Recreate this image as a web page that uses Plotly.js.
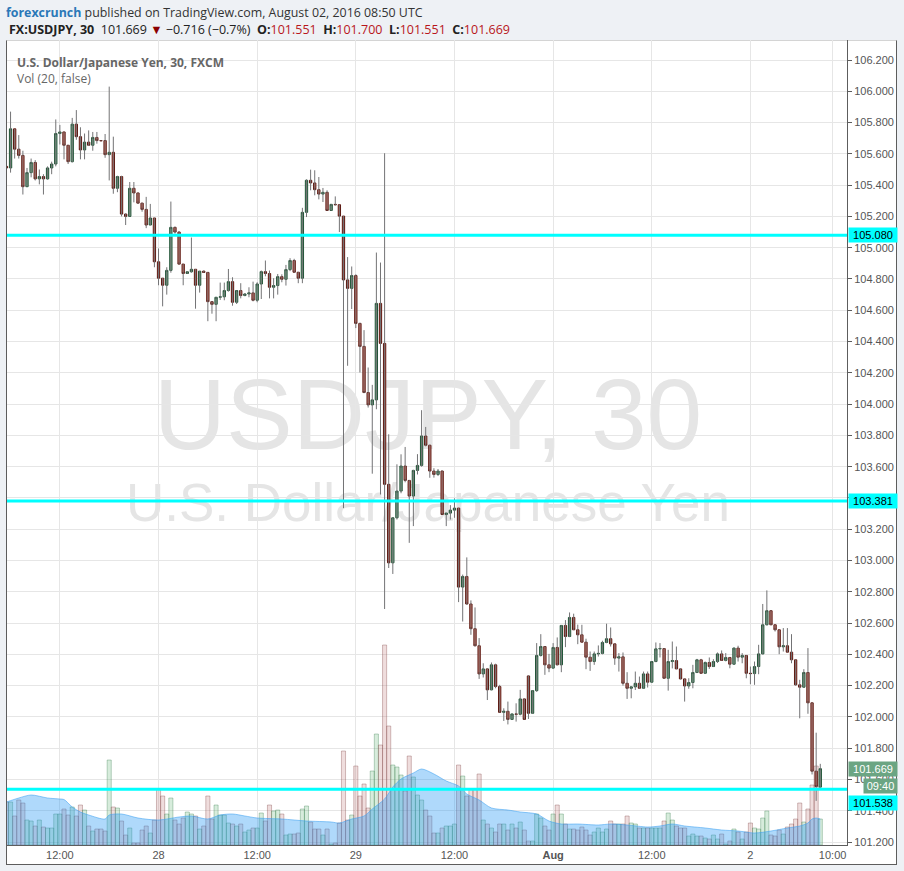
<!DOCTYPE html>
<html><head><meta charset="utf-8">
<script src="https://cdn.plot.ly/plotly-3.0.1.min.js"></script>
<style>
html,body{margin:0;padding:0;background:#eef1f5;}
#wrap{position:relative;width:904px;height:871px;overflow:hidden;}
#frame{position:absolute;left:6px;top:40px;width:891px;height:825px;box-sizing:border-box;background:#fff;border-left:1px solid #5d5d5d;border-right:1px solid #5d5d5d;border-bottom:1px solid #5d5d5d;border-top:1px solid #d4d4d4;}
.wm{position:absolute;left:0;width:856px;text-align:center;font-family:'Liberation Sans',Arial,sans-serif;color:#e5e5e5;white-space:nowrap;line-height:1;}
#chart{position:absolute;left:0;top:0;width:904px;height:871px;}
</style></head>
<body>
<div id="wrap">
<div id="frame"></div>
<div class="wm" style="top:364px;font-size:100px">USDJPY, 30</div>
<div class="wm" style="top:476px;font-size:53px">U.S. Dollar/Japanese Yen</div>
<div id="chart"></div>
</div>
<script>
// 30-minute sessions shown on the chart (weekend gap collapsed)
const SESSIONS = [['2016-07-27T05:30:00Z', 127], ['2016-07-31T21:00:00Z', 72]];

const OPEN = [105.52,105.51,105.76,105.63,105.59,105.39,105.48,105.545,105.44,105.455,
105.44,105.51,105.535,105.73,105.74,105.655,105.55,105.79,105.71,105.625,
105.675,105.655,105.705,105.685,105.685,105.595,105.61,105.38,105.455,105.215,
105.20,105.38,105.35,105.285,105.245,105.145,105.19,104.91,104.805,104.76,
104.855,105.13,105.10,104.895,104.835,104.846,104.862,104.76,104.85,104.842,
104.655,104.638,104.683,104.686,104.726,104.783,104.651,104.726,104.694,104.704,
104.711,104.664,104.768,104.847,104.835,104.747,104.758,104.815,104.798,104.86,
104.918,104.843,104.805,105.226,105.431,105.414,105.371,105.343,105.354,105.238,
105.277,105.275,105.202,104.794,104.74,104.822,104.516,104.369,104.074,103.995,
104.027,104.644,104.388,103.487,102.985,103.273,103.444,103.604,103.512,103.412,
103.576,103.608,103.796,103.737,103.572,103.55,103.572,103.294,103.303,103.322,
103.335,102.83,102.898,102.722,102.564,102.455,102.275,102.307,102.173,102.333,
102.194,102.029,102.036,101.984,102.019,102.017,102.115,102.262,102.023,102.168,
102.393,102.45,102.333,102.312,102.444,102.333,102.585,102.514,102.636,102.557,
102.525,102.478,102.382,102.354,102.403,102.406,102.476,102.50,102.467,102.376,
102.384,102.215,102.183,102.192,102.215,102.183,102.275,102.222,102.354,102.435,
102.437,102.247,102.354,102.36,102.307,102.243,102.198,102.22,102.284,102.365,
102.279,102.348,102.322,102.354,102.403,102.361,102.38,102.337,102.44,102.382,
102.393,102.279,102.277,102.322,102.403,102.589,102.679,102.589,102.557,102.448,
102.455,102.414,102.365,102.205,102.19,102.284,102.09,101.653,101.551];

const HIGH = [105.52,105.87,105.76,105.72,105.62,105.51,105.57,105.56,105.50,105.47,
105.52,105.55,105.82,105.785,105.74,105.655,105.83,105.88,105.77,105.73,
105.75,105.74,105.74,105.687,105.727,106.03,105.71,105.46,105.46,105.22,
105.42,105.42,105.352,105.287,105.325,105.28,105.19,104.995,104.806,104.875,
105.295,105.135,105.105,104.896,104.848,105.065,104.864,104.851,104.855,104.845,
104.657,104.684,104.777,104.777,104.864,104.811,104.727,104.773,104.71,104.747,
104.783,104.779,104.854,104.918,104.854,104.805,104.832,104.83,104.89,104.933,
104.929,104.845,105.255,105.437,105.499,105.495,105.452,105.382,105.367,105.28,
105.328,105.276,105.203,104.94,104.88,104.83,104.52,104.473,104.234,104.123,
104.969,104.905,105.604,103.807,103.275,103.615,103.679,103.726,103.515,103.58,
103.68,103.961,103.854,103.74,103.59,103.585,103.575,103.305,103.354,103.397,
103.336,102.91,103.02,102.745,102.70,102.504,102.343,102.31,102.348,102.34,
102.205,102.055,102.098,102.02,102.087,102.173,102.117,102.265,102.17,102.472,
102.529,102.452,102.403,102.472,102.508,102.586,102.619,102.668,102.66,102.59,
102.589,102.50,102.418,102.418,102.457,102.487,102.596,102.572,102.47,102.408,
102.412,102.286,102.195,102.29,102.258,102.29,102.29,102.356,102.476,102.472,
102.44,102.429,102.482,102.45,102.31,102.245,102.247,102.333,102.371,102.371,
102.354,102.38,102.369,102.412,102.425,102.408,102.382,102.444,102.455,102.408,
102.395,102.322,102.354,102.461,102.722,102.809,102.68,102.59,102.558,102.568,
102.568,102.529,102.367,102.237,102.305,102.44,102.092,101.899,101.700];

const LOW = [105.51,105.48,105.57,105.57,105.34,105.39,105.45,105.43,105.405,105.34,
105.435,105.47,105.52,105.66,105.565,105.535,105.545,105.69,105.565,105.565,
105.65,105.62,105.665,105.683,105.575,105.43,105.345,105.355,105.20,105.145,
105.20,105.29,105.28,105.23,105.125,105.145,104.875,104.76,104.625,104.70,
104.84,105.09,104.895,104.76,104.833,104.84,104.61,104.713,104.84,104.53,
104.578,104.53,104.666,104.664,104.719,104.629,104.64,104.676,104.69,104.683,
104.657,104.651,104.672,104.817,104.676,104.676,104.70,104.779,104.758,104.85,
104.841,104.773,104.773,105.196,105.367,105.335,105.309,105.292,105.238,105.237,
105.27,105.10,103.335,104.245,104.608,104.486,104.202,104.07,103.978,103.555,
103.967,103.422,102.69,102.952,102.914,103.262,103.43,103.50,103.113,103.22,
103.55,103.60,103.73,103.529,103.53,103.54,103.294,103.22,103.262,103.273,
102.734,102.61,102.717,102.525,102.45,102.243,102.252,102.108,102.17,102.183,
102.029,101.974,101.952,101.982,101.97,102.01,101.984,101.987,102.019,102.16,
102.386,102.269,102.286,102.31,102.33,102.286,102.446,102.51,102.556,102.465,
102.477,102.305,102.294,102.333,102.386,102.40,102.471,102.45,102.333,102.29,
102.20,102.115,102.119,102.172,102.18,102.18,102.188,102.22,102.35,102.38,
102.243,102.168,102.31,102.305,102.24,102.098,102.18,102.183,102.28,102.278,
102.277,102.307,102.32,102.345,102.36,102.355,102.311,102.335,102.354,102.343,
102.247,102.209,102.205,102.273,102.40,102.585,102.588,102.546,102.401,102.418,
102.413,102.343,102.20,101.991,102.188,102.02,101.632,101.463,101.551];

const CLOSE = [105.51,105.76,105.63,105.59,105.39,105.48,105.545,105.44,105.455,105.44,
105.51,105.535,105.73,105.74,105.655,105.55,105.79,105.71,105.625,105.675,
105.655,105.705,105.685,105.684,105.595,105.61,105.38,105.455,105.215,105.20,
105.38,105.35,105.285,105.245,105.145,105.19,104.91,104.805,104.76,104.855,
105.13,105.10,104.895,104.835,104.846,104.862,104.76,104.85,104.842,104.655,
104.638,104.683,104.686,104.726,104.783,104.651,104.726,104.694,104.704,104.711,
104.664,104.768,104.847,104.835,104.747,104.758,104.815,104.798,104.86,104.918,
104.843,104.805,105.226,105.431,105.414,105.371,105.343,105.354,105.238,105.277,
105.275,105.202,104.794,104.74,104.822,104.516,104.369,104.074,103.995,104.027,
104.644,104.388,103.487,102.985,103.273,103.444,103.604,103.512,103.412,103.576,
103.608,103.796,103.737,103.572,103.55,103.572,103.294,103.303,103.322,103.335,
102.83,102.898,102.722,102.564,102.455,102.275,102.307,102.173,102.333,102.194,
102.029,102.036,101.984,102.019,102.017,102.115,101.984,102.023,102.168,102.393,
102.45,102.333,102.312,102.444,102.333,102.585,102.514,102.636,102.557,102.525,
102.478,102.382,102.354,102.403,102.406,102.476,102.50,102.467,102.376,102.384,
102.215,102.183,102.192,102.215,102.183,102.275,102.222,102.354,102.435,102.437,
102.247,102.354,102.36,102.307,102.243,102.198,102.22,102.284,102.365,102.279,
102.348,102.322,102.354,102.403,102.361,102.38,102.337,102.44,102.382,102.393,
102.279,102.277,102.322,102.403,102.589,102.679,102.589,102.557,102.448,102.455,
102.414,102.365,102.205,102.19,102.284,102.09,101.653,101.555,101.669];

const VOLUME = [430,430,290,450,420,250,240,190,250,180,
170,170,310,310,360,300,380,290,400,350,
190,140,160,160,140,850,380,370,240,100,
170,20,20,150,190,120,250,560,490,310,
470,250,210,270,330,310,290,160,190,490,
260,400,300,300,220,210,190,210,130,150,
170,170,320,240,400,340,350,310,100,110,
110,120,360,390,230,160,160,100,160,10,
20,220,940,250,300,790,490,610,370,740,
1110,1000,2000,1190,800,780,700,540,890,680,
500,450,350,290,120,120,170,190,190,210,
800,690,490,560,560,710,250,210,170,130,
210,210,150,210,170,230,150,40,40,310,
270,190,150,310,400,310,210,160,160,150,
180,150,100,130,170,130,160,240,210,210,
210,290,220,210,170,170,170,170,170,170,
240,320,250,190,170,170,90,110,90,90,
70,60,100,60,110,10,40,160,130,60,
130,220,170,160,270,340,100,90,150,110,
180,210,260,420,230,360,600,790,260];

// Vol (20) average at sample times
const VOL_MA_TIME = ['2016-07-27 05:30','2016-07-27 07:00','2016-07-27 08:30','2016-07-27 10:30','2016-07-27 12:00','2016-07-27 12:30','2016-07-27 13:30','2016-07-27 14:30','2016-07-27 15:30','2016-07-27 17:30','2016-07-27 18:00','2016-07-27 19:30','2016-07-27 21:30','2016-07-28 00:00','2016-07-28 02:30','2016-07-28 04:00','2016-07-28 06:00','2016-07-28 07:30','2016-07-28 09:00','2016-07-28 10:30','2016-07-28 12:00','2016-07-28 15:00','2016-07-28 18:00','2016-07-28 21:00','2016-07-28 22:00','2016-07-28 23:30','2016-07-29 01:00','2016-07-29 02:00','2016-07-29 03:30','2016-07-29 04:30','2016-07-29 05:30','2016-07-29 07:00','2016-07-29 08:00','2016-07-29 09:30','2016-07-29 11:00','2016-07-29 12:30','2016-07-29 13:30','2016-07-29 15:00','2016-07-29 16:30','2016-07-29 18:30','2016-07-29 20:00','2016-07-31 22:00','2016-07-31 23:30','2016-08-01 01:00','2016-08-01 03:00','2016-08-01 05:30','2016-08-01 07:00','2016-08-01 09:00','2016-08-01 11:30','2016-08-01 13:00','2016-08-01 14:30','2016-08-01 16:00','2016-08-01 18:30','2016-08-01 20:30','2016-08-01 22:30','2016-08-02 00:30','2016-08-02 02:30','2016-08-02 04:30','2016-08-02 06:00','2016-08-02 07:00','2016-08-02 07:30','2016-08-02 08:00','2016-08-02 08:30'];
const VOL_MA = [430,470,500,470,460,455,380,330,300,260,300,310,270,250,280,290,260,300,310,290,270,260,240,230,220,260,290,360,460,580,660,720,760,710,640,590,510,450,370,350,330,310,240,210,210,200,210,200,180,190,210,190,170,150,140,120,140,170,190,220,260,270,260];

const LEVELS = [105.080, 103.381, 101.538];
const XTICK_TIME = ['2016-07-27 12:00','2016-07-28 00:00','2016-07-28 12:00','2016-07-29 00:00','2016-07-29 12:00','2016-08-01 00:00','2016-08-01 12:00','2016-08-02 00:00','2016-08-02 10:00'];
const XTICK_TEXT = ['12:00','28','12:00','29','12:00','<b>Aug</b>','12:00','2','10:00'];
const YTICK_VALS = [101.2,101.4,101.6,101.8,102.0,102.2,102.4,102.6,102.8,103.0,103.2,103.4,103.6,103.8,104.0,104.2,104.4,104.6,104.8,105.0,105.2,105.4,105.6,105.8,106.0,106.2];
const YTICK_TEXT = ['101.200','101.400','101.600','101.800','102.000','102.200','102.400','102.600','102.800','103.000','103.200','','103.600','103.800','104.000','104.200','104.400','104.600','104.800','105.000','105.200','105.400','105.600','105.800','106.000','106.200'];

function pad(n){return (n<10?'0':'')+n;}
const TIME = [];
SESSIONS.forEach(([start, count]) => {
  const t0 = Date.parse(start);
  for (let i = 0; i < count; i++) {
    const d = new Date(t0 + i * 1800000);
    TIME.push(d.getUTCFullYear()+'-'+pad(d.getUTCMonth()+1)+'-'+pad(d.getUTCDate())+' '+pad(d.getUTCHours())+':'+pad(d.getUTCMinutes()));
  }
});

const UP = '#6ba583', UPLINE = '#225437', DN = '#d75442', DNLINE = '#5b1a13', WICK = '#737375';
const isUp = CLOSE.map((c, i) => c >= OPEN[i]);

// wicks
const wx = [], wy = [];
TIME.forEach((t, i) => { wx.push(t, t, null); wy.push(LOW[i], HIGH[i], null); });

const traces = [
  { type:'scatter', x: VOL_MA_TIME, y: VOL_MA, xaxis:'x', yaxis:'y', mode:'lines',
    line:{color:'rgba(60,160,240,0.55)', width:1, shape:'spline', smoothing:0.8},
    fill:'tozeroy', fillcolor:'rgba(33,150,243,0.36)', hoverinfo:'skip' },
  { type:'bar', x: TIME, y: VOLUME, xaxis:'x', yaxis:'y',
    marker:{ color: isUp.map(u => u ? 'rgba(100,180,120,0.26)' : 'rgba(190,120,120,0.25)'),
             line:{ color: isUp.map(u => u ? 'rgba(60,130,80,0.35)' : 'rgba(130,70,70,0.35)'), width:1 } },
    hoverinfo:'skip' },
  { type:'scatter', x: wx, y: wy, xaxis:'x', yaxis:'y2', mode:'lines',
    line:{color: WICK, width:1}, hoverinfo:'skip', connectgaps:false },
  { type:'candlestick', x: TIME, open: OPEN, close: CLOSE,
    high: OPEN.map((o, i) => Math.max(o, CLOSE[i])), low: OPEN.map((o, i) => Math.min(o, CLOSE[i])),
    xaxis:'x', yaxis:'y2',
    increasing:{fillcolor: UP, line:{color: UPLINE, width:1}},
    decreasing:{fillcolor: DN, line:{color: DNLINE, width:1}},
    whiskerwidth:0, hoverinfo:'skip' }
];

const lastClose = CLOSE[CLOSE.length - 1];
const axFont = {family:'Liberation Sans, Arial, sans-serif', size:11, color:'#555'};
const annotations = [
  { xref:'paper', yref:'paper', x:0, xshift:-3, y:1, yshift:28, xanchor:'left', yanchor:'middle', showarrow:false,
    text:'<b><span style="color:#2a78b8">forexcrunch</span></b> published on TradingView.com, August 02, 2016 08:50 UTC',
    font:{family:'Open Sans, sans-serif', size:12.4, color:'#333'} },
  { xref:'paper', yref:'paper', x:0, y:1, yshift:11, xanchor:'left', yanchor:'middle', showarrow:false,
    text:'<b>FX:USDJPY, 30</b>&nbsp; 101.669 <span style="color:#8b0000">▼</span> −0.716 (−0.7%)&nbsp; <b>O:</b><span style="color:#b8161b">101.551</span>&nbsp; <b>H:</b><span style="color:#b8161b">101.700</span>&nbsp; <b>L:</b><span style="color:#b8161b">101.551</span>&nbsp; <b>C:</b><span style="color:#b8161b">101.669</span>',
    font:{family:'Open Sans, sans-serif', size:12.5, color:'#222'} },
  { xref:'paper', yref:'paper', x:0, xshift:8, y:1, yshift:-22, xanchor:'left', yanchor:'middle', showarrow:false,
    text:'<b>U.S. Dollar/Japanese Yen, 30, FXCM</b>', font:{family:'Open Sans, sans-serif', size:12, color:'#666'} },
  { xref:'paper', yref:'paper', x:0, xshift:8, y:1, yshift:-38, xanchor:'left', yanchor:'middle', showarrow:false,
    text:'Vol (20, false)', font:{family:'Open Sans, sans-serif', size:12, color:'#666'} }
];
LEVELS.forEach((lv, i) => {
  annotations.push({ xref:'paper', yref:'y2', x:1, xshift:1, y:lv, yshift:(i === 2 ? -14 : 0), xanchor:'left', yanchor:'middle',
    showarrow:false, text: lv.toFixed(3), bgcolor:'#00ffff', width:46, height:12, borderpad:1,
    font:{family:'Liberation Sans, Arial, sans-serif', size:11, color:'#000'} });
});
annotations.push({ xref:'paper', yref:'y2', x:1, xshift:1, y:lastClose, xanchor:'left', yanchor:'middle', showarrow:false,
  text: lastClose.toFixed(3), bgcolor: UP, width:46, height:12, borderpad:1,
  font:{family:'Liberation Sans, Arial, sans-serif', size:11, color:'#fff'} });
annotations.push({ xref:'paper', yref:'y2', x:1, xshift:16, y:lastClose, yshift:-17, xanchor:'left', yanchor:'middle', showarrow:false,
  text:'09:40', bgcolor: UP, width:31, height:12, borderpad:1,
  font:{family:'Liberation Sans, Arial, sans-serif', size:11, color:'#fff'} });

const shapes = LEVELS.map(lv => ({ type:'line', xref:'paper', x0:0, x1:1, yref:'y2', y0:lv, y1:lv,
  line:{color:'#00ffff', width:3}, layer:'above' }));

const layout = {
  width:904, height:871,
  margin:{l:7, r:57, t:40, b:26, pad:0},
  paper_bgcolor:'rgba(0,0,0,0)', plot_bgcolor:'rgba(0,0,0,0)',
  showlegend:false, bargap:0, boxgap:0.2,
  xaxis:{ type:'date', range:['2016-07-27 05:34','2016-08-02 11:45'],
    rangebreaks:[{bounds:['2016-07-29 21:00','2016-07-31 21:00']}],
    rangeslider:{visible:false}, tickmode:'array', tickvals:XTICK_TIME, ticktext:XTICK_TEXT,
    showgrid:true, gridcolor:'#e6e6e6', gridwidth:1, showline:true, linecolor:'#5d5d5d', linewidth:1,
    ticks:'', tickfont:axFont, zeroline:false, fixedrange:true },
  yaxis:{ range:[0, 8050], visible:false, showgrid:false, zeroline:false, fixedrange:true },
  yaxis2:{ overlaying:'y', side:'right', range:[101.181, 106.328], tickmode:'array', tickvals:YTICK_VALS, ticktext:YTICK_TEXT,
    ticks:'outside', ticklen:4, tickcolor:'#5d5d5d', showline:true, linecolor:'#5d5d5d', linewidth:1,
    showgrid:true, gridcolor:'#e6e6e6', gridwidth:1, zeroline:false, tickfont:axFont, fixedrange:true },
  shapes: shapes,
  annotations: annotations
};

Plotly.newPlot('chart', traces, layout, {displayModeBar:false, staticPlot:true});
</script>
</body></html>
